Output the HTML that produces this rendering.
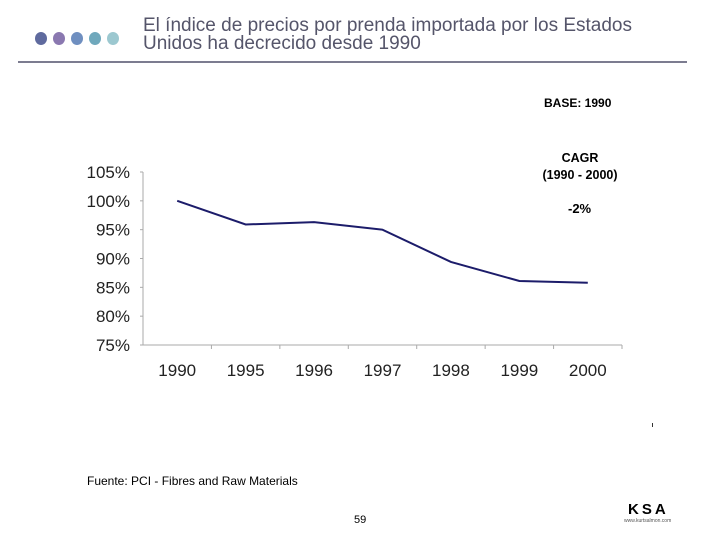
<!DOCTYPE html>
<html><head><meta charset="utf-8"><style>
body{margin:0;width:720px;height:540px;background:#fff;position:relative;font-family:"Liberation Sans",sans-serif;overflow:hidden}
.a{position:absolute}
.dot{position:absolute;top:32px;width:12px;height:13px;border-radius:50%}
</style></head><body>
<div class="dot" style="left:35px;background:#5f6a9e"></div>
<div class="dot" style="left:53px;background:#8a78b0"></div>
<div class="dot" style="left:71px;background:#6f8fc0"></div>
<div class="dot" style="left:89px;background:#6fa8bc"></div>
<div class="dot" style="left:107px;background:#9cc8d0"></div>
<div class="a" style="left:143px;top:17px;font-size:19px;line-height:18px;color:#55556a">El índice de precios por prenda importada por los Estados<br>Unidos ha decrecido desde 1990</div>
<div class="a" style="left:18px;top:61px;width:669px;height:2px;background:#7c7c90"></div>
<div class="a" style="left:544px;top:96px;font-size:12px;font-weight:bold">BASE: 1990</div>
<div class="a" style="left:530px;top:150px;width:100px;text-align:center;font-size:12.5px;font-weight:bold;line-height:17px">CAGR<br>(1990 - 2000)</div>
<div class="a" style="left:568px;top:201px;font-size:13px;font-weight:bold">-2%</div>
<svg class="a" style="left:0;top:0" width="720" height="540">
<g id="g"></g></svg>
<div class="a" style="left:652px;top:423px;width:1px;height:4px;background:#333"></div>
<div class="a" style="left:87px;top:474px;font-size:12px">Fuente: PCI - Fibres and Raw Materials</div>
<div class="a" style="left:354px;top:514px;font-size:11px">59</div>
<div class="a" style="left:628px;top:501px;font-size:15px;font-weight:bold;letter-spacing:3px">KSA</div>
<div class="a" style="left:624px;top:518px;font-size:5px;color:#555">www.kurtsalmon.com</div>
<script>
const categories=["1990","1995","1996","1997","1998","1999","2000"];
const values=[100,95.9,96.3,95.0,89.4,86.1,85.8];
const yTicks=[75,80,85,90,95,100,105];
const NS="http://www.w3.org/2000/svg",g=document.getElementById('g');
const x0=143,x1=622,yB=345,yT=172,bw=(x1-x0)/categories.length;
const X=i=>x0+bw*(i+0.5), Y=v=>yB-(v-75)/(105-75)*(yB-yT);
function mk(t,a){const e=document.createElementNS(NS,t);for(const k in a)e.setAttribute(k,a[k]);g.appendChild(e);return e;}
const ya=mk('line',{x1:x0,y1:yT,x2:x0,y2:yB,stroke:'#aaa'});


const xa=mk('line',{x1:x0,y1:yB,x2:x1,y2:yB,stroke:'#aaa'});


yTicks.forEach(v=>{const t=mk('text',{x:x0-13,y:Y(v)+6,'text-anchor':'end','font-size':17,fill:'#222','font-family':'Liberation Sans'});t.textContent=v+'%';


mk('line',{x1:x0-3,y1:Y(v),x2:x0,y2:Y(v),stroke:'#aaa'});});
categories.forEach((c,i)=>{mk('line',{x1:x0+bw*(i+1),y1:yB,x2:x0+bw*(i+1),y2:yB+4,stroke:'#aaa'});
const t=mk('text',{x:X(i),y:yB+31,'text-anchor':'middle','font-size':17,fill:'#222','font-family':'Liberation Sans'});t.textContent=c;

});
const p=mk('polyline',{points:values.map((v,i)=>X(i)+','+Y(v)).join(' '),fill:'none',stroke:'#1c1c6a','stroke-width':2});


</script>
</body></html>
